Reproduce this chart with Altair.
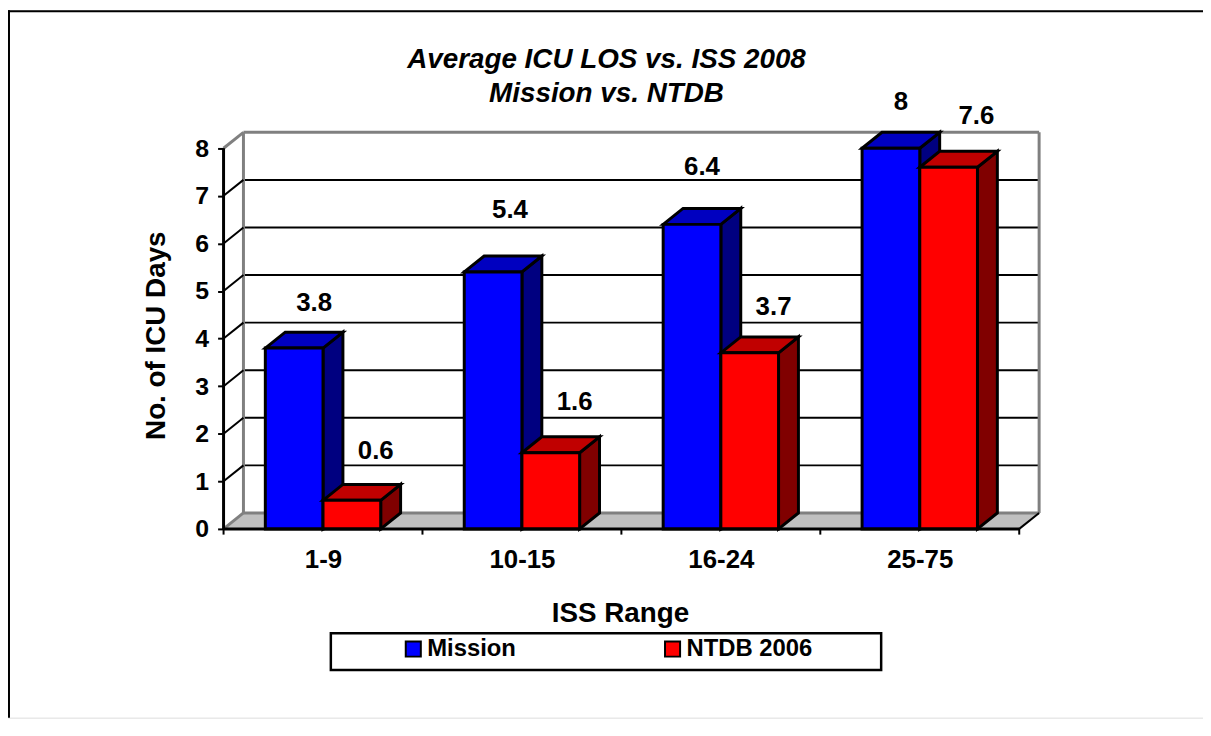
import altair as alt
import pandas as pd

categories = ["1-9", "10-15", "16-24", "25-75"]
series_names = ["Mission", "NTDB 2006"]
mission = [3.8, 5.4, 6.4, 8]
ntdb = [0.6, 1.6, 3.7, 7.6]
y_ticks = [0, 1, 2, 3, 4, 5, 6, 7, 8]
x_centers = [0.5, 1.5, 2.5, 3.5]

FONT = "Liberation Sans"
W, H = 1203, 712
PX_X, PX_Y = 200.25, 47.9
X0, Y0 = 217, 522          # svg position of the front corner (cat 0, value 0)
DX, DY = 0.1, 0.335        # 3D depth, in scale units
BW = 0.29                  # bar width, in category units
# hand placement of the value labels above each bar, in pixels
lift_mission, shift_mission = [45, 62, 58, 46], [0, -3, -10, -10]
lift_ntdb, shift_ntdb = [50, 51, 46, 52], [4, 4, 4, 8]
x_scale = alt.Scale(domain=[-X0 / PX_X, (W - X0) / PX_X], range=[0, W], nice=False, zero=False)
y_scale = alt.Scale(domain=[-(H - Y0) / PX_Y, Y0 / PX_Y], range=[H, 0], nice=False, zero=False)

y_axis = alt.Axis(
    orient="left", offset=-X0, values=y_ticks, domain=False, grid=False, format="d",
    tickColor="black", tickWidth=2, tickSize=6, labelPadding=9,
    labelFont=FONT, labelFontSize=25, labelFontWeight="bold", labelColor="black",
    title="No. of ICU Days", titleFont=FONT, titleFontSize=28, titleFontWeight="bold", titleColor="black",
    titleX=-67, titleY=327, titleAngle=-90, titleAlign="center", titleBaseline="middle")
x_axis = alt.Axis(
    orient="bottom", offset=-(H - Y0), values=x_centers, domain=False, grid=False,
    ticks=False, labelPadding=18, labelExpr="['1-9','10-15','16-24','25-75'][floor(datum.value)]",
    labelFont=FONT, labelFontSize=26, labelFontWeight="bold", labelColor="black",
    title="ISS Range", titleFont=FONT, titleFontSize=28, titleFontWeight="bold", titleColor="black",
    titleX=616, titleY=85, titleAlign="center", titleBaseline="middle")
XQ = lambda f="x": alt.X(f"{f}:Q", scale=x_scale, axis=x_axis)
YQ = lambda f="y": alt.Y(f"{f}:Q", scale=y_scale, axis=y_axis)


def faces(values, offset, lift, shift):
    front, side, top, labels = [], [], [], []
    for i, v in enumerate(values):
        c = i + 0.5
        l = c + offset * BW
        r = l + BW
        front.append(dict(cat=categories[i], x=l, x2=r, y=0, y2=v))
        side += [dict(cat=categories[i], x=r, y=v, y2=0),
                 dict(cat=categories[i], x=r + DX, y=v + DY, y2=DY)]
        top += [dict(cat=categories[i], x=l, y=v, y2=v),
                dict(cat=categories[i], x=l + DX, y=v + DY, y2=v),
                dict(cat=categories[i], x=r, y=v + DY, y2=v),
                dict(cat=categories[i], x=r + DX, y=v + DY, y2=v + DY)]
        labels.append(dict(x=(l + r) / 2 + DX + shift[i] / PX_X, y=v + lift[i] / PX_Y, label=f"{v:g}"))
    return map(pd.DataFrame, (front, side, top, labels))


def bar_layers(values, offset, name, dark, mid, lift, shift):
    front, side, top, labels = faces(values, offset, lift, shift)
    front["series"] = name
    s = alt.Chart(side).mark_area(orient="vertical", fill=dark, stroke="black", strokeWidth=3).encode(
        x=XQ(), y=YQ(), y2="y2:Q", detail="cat:N")
    t = alt.Chart(top).mark_area(orient="vertical", fill=mid, stroke="black", strokeWidth=3).encode(
        x=XQ(), y=YQ(), y2="y2:Q", detail="cat:N")
    f = alt.Chart(front).mark_rect(stroke="black", strokeWidth=3).encode(
        x=XQ(), x2="x2:Q", y=YQ(), y2="y2:Q",
        color=alt.Color("series:N", scale=alt.Scale(domain=series_names, range=["#0000FF", "#FF0000"]),
                        sort=series_names,
                        legend=alt.Legend(orient="none", legendX=396, legendY=631, columns=2, title=None,
                                          symbolType="square", symbolSize=230, symbolStrokeColor="black",
                                          symbolStrokeWidth=2, symbolOpacity=1, labelFont=FONT, labelFontSize=24,
                                          labelFontWeight="bold", labelColor="black", labelOffset=2,
                                          columnPadding=145, padding=0, labelLimit=300)))
    return [s, t, f], labels


# outer frame (top and left only)
frame = [
    alt.Chart(pd.DataFrame({"a": [0]})).mark_rule(color="black", strokeWidth=2).encode(
        x=alt.value(0), x2=alt.value(W), y=alt.value(1)),
    alt.Chart(pd.DataFrame({"a": [0]})).mark_rule(color="black", strokeWidth=2).encode(
        x=alt.value(1), y=alt.value(0), y2=alt.value(H)),
]

# floor
floor_df = pd.DataFrame(dict(x=[0, DX, 4, 4 + DX], y=[0, DY, DY, DY], y2=[0, 0, 0, DY]))
floor = alt.Chart(floor_df).mark_area(orient="vertical", fill="#C0C0C0").encode(
    x=XQ(), y=YQ(), y2="y2:Q")

# back wall grid lines
grid_df = pd.DataFrame(dict(y=[t + DY for t in y_ticks[1:-1]], x=DX, x2=4 + DX))
grid = alt.Chart(grid_df).mark_rule(color="black", strokeWidth=2).encode(x=XQ(), x2="x2:Q", y=YQ())

# wall outline (grey)
wall_df = pd.DataFrame([
    dict(x=DX, x2=4 + DX, y=8 + DY, y2=8 + DY),
    dict(x=DX, x2=4 + DX, y=DY, y2=DY),
    dict(x=DX, x2=DX, y=DY, y2=8 + DY),
    dict(x=4 + DX, x2=4 + DX, y=DY, y2=8 + DY),
])
wall = alt.Chart(wall_df).mark_rule(color="#808080", strokeWidth=3).encode(
    x=XQ(), x2="x2:Q", y=YQ(), y2="y2:Q")

# depth lines on the left wall and the floor
diag_rows = [dict(k=t, x=0, y=t, o=0) for t in y_ticks[1:-1]] + [dict(k=t, x=DX, y=t + DY, o=1) for t in y_ticks[1:-1]]
diag_rows += [dict(k=100, x=4, y=0, o=0), dict(k=100, x=4 + DX, y=DY, o=1)]
diag = alt.Chart(pd.DataFrame(diag_rows)).mark_line(color="black", strokeWidth=2).encode(
    x=XQ(), y=YQ(), detail="k:N", order="o:Q")
diag_g_rows = [dict(k=t, x=0, y=t, o=0) for t in (0, 8)] + [dict(k=t, x=DX, y=t + DY, o=1) for t in (0, 8)]
diag_g = alt.Chart(pd.DataFrame(diag_g_rows)).mark_line(color="#808080", strokeWidth=3).encode(
    x=XQ(), y=YQ(), detail="k:N", order="o:Q")

blue, blue_labels = bar_layers(mission, -1, series_names[0], "#000080", "#0000C0", lift_mission, shift_mission)
red, red_labels = bar_layers(ntdb, 0, series_names[1], "#800000", "#C00000", lift_ntdb, shift_ntdb)

# axes lines in front
axis_df = pd.DataFrame([dict(x=0, x2=0, y=0, y2=8), dict(x=0, x2=4, y=0, y2=0)])
axis_lines = alt.Chart(axis_df).mark_rule(color="black", strokeWidth=3).encode(
    x=XQ(), x2="x2:Q", y=YQ(), y2="y2:Q")
xtick_df = pd.DataFrame(dict(x=[0, 1, 2, 3, 4], y=0, y2=-0.12))
xticks = alt.Chart(xtick_df).mark_rule(color="black", strokeWidth=2).encode(x=XQ(), y=YQ(), y2="y2:Q")

labels_df = pd.concat([blue_labels, red_labels])
labels = alt.Chart(labels_df).mark_text(font=FONT, fontSize=26, fontWeight="bold", color="black",
                                        baseline="middle").encode(x=XQ(), y=YQ(), text="label:N")

# legend box
legend_box = alt.Chart(pd.DataFrame({"a": [0]})).mark_rect(fill="white", stroke="black", strokeWidth=2.5).encode(
    x=alt.value(325), x2=alt.value(879), y=alt.value(627), y2=alt.value(664))

chart = alt.layer(
    *frame, floor, grid, wall, diag, diag_g, *blue, *red, axis_lines, xticks, labels, legend_box,
).properties(
    width=W, height=H,
    padding=0,
    autosize=alt.AutoSizeParams(type="none"),
    title=alt.TitleParams(
        text=["Average ICU LOS vs. ISS 2008", "Mission vs. NTDB"],
        font=FONT, fontSize=28, fontWeight="bold", fontStyle="italic", color="black",
        anchor="middle", orient="top", baseline="top", offset=-99, lineHeight=34, dx=1),
).configure_view(stroke=None).configure(background="white")

chart.save("out.html", embed_options={"renderer": "svg", "actions": False})
